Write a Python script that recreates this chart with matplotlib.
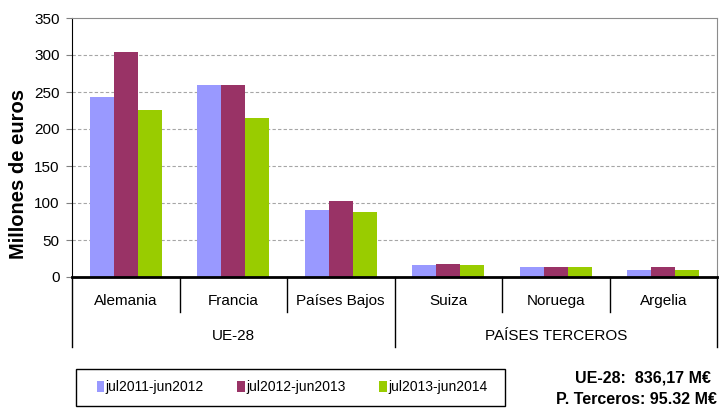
import numpy as np
import matplotlib
matplotlib.use('Agg')
import matplotlib.pyplot as plt
from matplotlib.patches import Rectangle

plt.rcParams['font.family'] = ['Liberation Sans', 'DejaVu Sans']

paises = ['Alemania', 'Francia', 'Países Bajos', 'Suiza', 'Noruega', 'Argelia']
grupos = ['UE-28', 'PAÍSES TERCEROS']
periodos = ['jul2011-jun2012', 'jul2012-jun2013', 'jul2013-jun2014']
v2012 = [243, 260, 90, 16, 14, 9]
v2013 = [304, 260, 103, 18, 14, 14]
v2014 = [226, 215, 88, 16, 14, 9]
colores = ['#9999FF', '#993366', '#99CC00']

W, H = 720, 408
fig = plt.figure(figsize=(7.2, 4.08), dpi=100)
ax = fig.add_axes([72 / W, 131 / H, 645 / W, 259 / H])

x = np.arange(len(paises))
width = 0.223
for k, vals in enumerate([v2012, v2013, v2014]):
    ax.bar(x + (k - 1) * width, vals, width, color=colores[k], label=periodos[k], zorder=3)

ax.set_xlim(-0.5, len(paises) - 0.5)
ax.set_ylim(0, 350)
ax.set_yticks(range(0, 351, 50))
ax.set_xticks([])
ax.tick_params(axis='y', length=4, color='#808080', labelsize=11, pad=5)
for y in range(50, 350, 50):
    ax.axhline(y, color='#A6A6A6', lw=0.8, ls=(0, (3, 2)), zorder=1)

ax.spines['top'].set_color('#8C8C8C')
ax.spines['right'].set_color('#8C8C8C')
ax.spines['left'].set_color('black')
ax.spines['bottom'].set_color('black')
ax.spines['bottom'].set_linewidth(2)
ax.spines['bottom'].set_zorder(4)

# tabla de categorias bajo el eje
tr = ax.get_xaxis_transform()
for i in range(len(paises) + 1):
    xs = i - 0.5
    low = -0.27 if i in (0, 3, len(paises)) else -0.135
    ax.plot([xs, xs], [0, low], color='black', lw=1, transform=tr, clip_on=False)
for i, p in enumerate(paises):
    ax.text(i, -0.092, p, transform=tr, ha='center', va='center', fontsize=11)
ax.text(1, -0.226, grupos[0], transform=tr, ha='center', va='center', fontsize=11)
ax.text(4, -0.226, grupos[1], transform=tr, ha='center', va='center', fontsize=11)

fig.text(19 / W, 1 - 174 / H, 'Millones de euros', rotation=90, ha='center', va='center',
         fontsize=14.5, fontweight='bold')

# leyenda
fig.patches.append(Rectangle((76 / W, 1 - 406 / H), 429 / W, 37 / H, transform=fig.transFigure,
                             fill=False, edgecolor='black', lw=1))
handles, labels = ax.get_legend_handles_labels()
fig.legend(handles, labels, loc='center', bbox_to_anchor=(292 / W, 1 - 387.5 / H), ncol=3,
           frameon=False, prop={'size': 10}, handlelength=0.55, handleheight=0.9,
           handletextpad=0.1, columnspacing=2.4)

fig.text(575 / W, 1 - 378 / H, 'UE-28:  836,17 M€', ha='left', va='center', fontsize=11.5, fontweight='bold')
fig.text(556 / W, 1 - 400 / H, 'P. Terceros: 95.32 M€', ha='left', va='center', fontsize=11.5, fontweight='bold')

fig.savefig('out.png', dpi=100)
